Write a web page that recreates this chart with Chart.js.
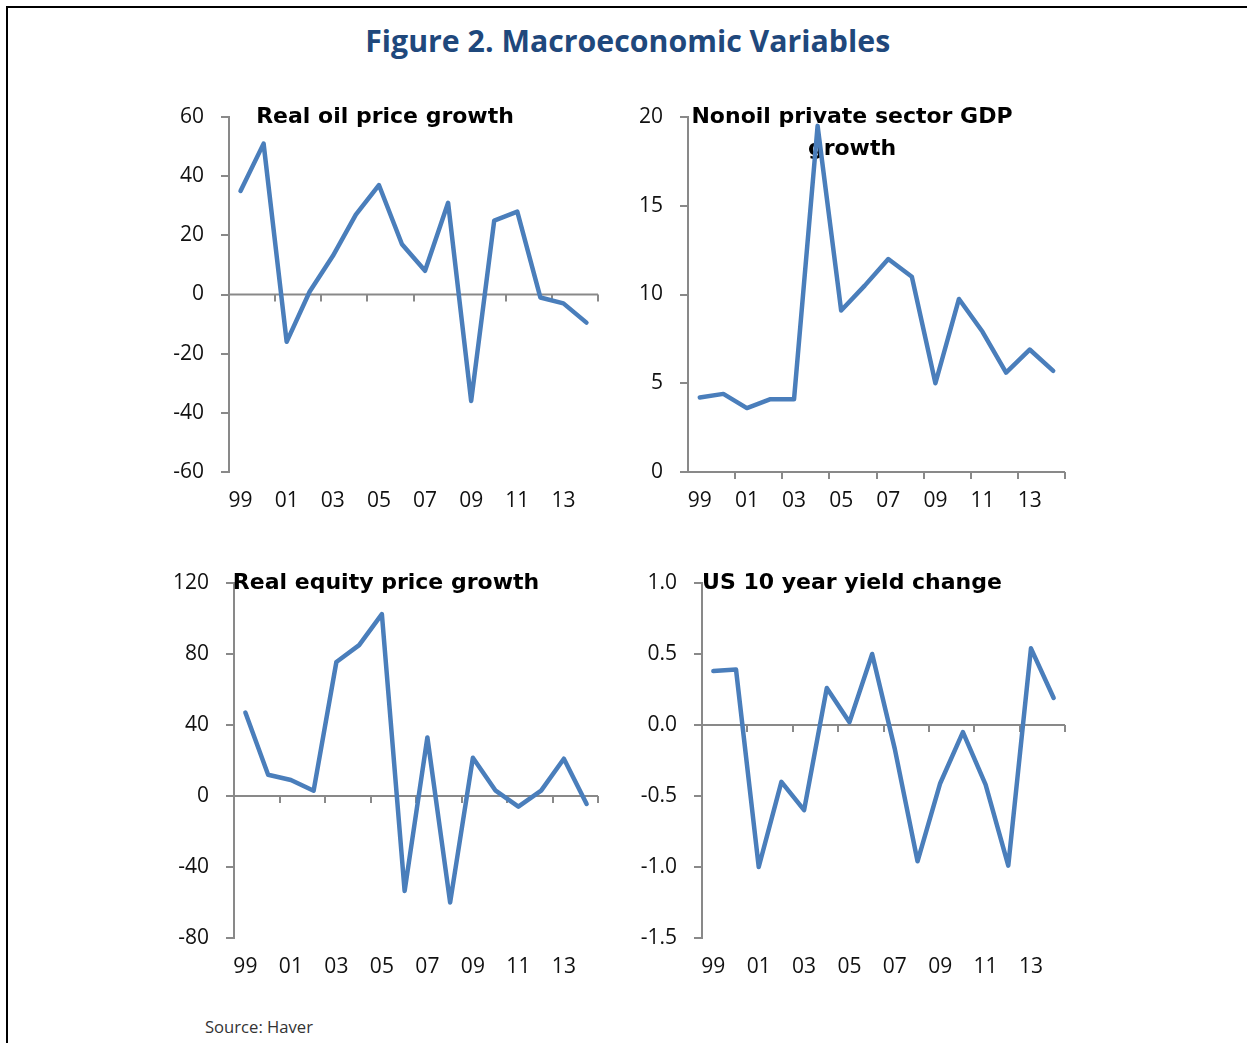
<!DOCTYPE html>
<html>
<head>
<meta charset="utf-8">
<script src="https://cdn.jsdelivr.net/npm/chart.js@4.4.1/dist/chart.umd.min.js"></script>
<style>
  html, body { margin: 0; padding: 0; background: #fff; }
  body { width: 1247px; height: 1043px; position: relative; overflow: hidden; }
  #frame { position: absolute; left: 6px; top: 6px; width: 1300px; height: 1100px;
           border-top: 2px solid #000; border-left: 2px solid #000; }
  #title { position: absolute; left: 0; top: 25px; width: 1256px; text-align: center;
           font: bold 31px "Open Sans", sans-serif; line-height: 30px; color: #1f487c; }
  #title span { display: inline-block; transform-origin: center; }
  #source { position: absolute; left: 205px; top: 1016px; font: 16px "Open Sans", sans-serif; color: #333; }
  #source span { display: inline-block; transform-origin: left; }
  canvas { position: absolute; }
</style>
</head>
<body>
<div id="frame"></div>
<div id="title"><span>Figure 2. Macroeconomic Variables</span></div>
<div id="source"><span>Source: Haver</span></div>

<script>
// years 1999..2014
const years = ['99','00','01','02','03','04','05','06','07','08','09','10','11','12','13','14'];

const oilGrowth = [35, 51, -16, 1, 13, 27, 37, 17, 8, 31, -36, 25, 28, -1, -3, -9.5];
const nonoilGdp = [4.2, 4.4, 3.6, 4.1, 4.1, 19.5, 9.1, 10.5, 12.0, 11.0, 5.0, 9.75, 7.9, 5.6, 6.9, 5.7];
const equityGrowth = [47, 12, 9, 3, 75.5, 85, 102.5, -53.5, 33, -60, 21.5, 3, -6, 3, 21, -4.5];
const us10Change = [0.38, 0.39, -1.0, -0.40, -0.60, 0.26, 0.02, 0.50, -0.17, -0.96, -0.41, -0.05, -0.42, -0.99, 0.54, 0.19];

const titles = [
  ['Real oil price growth'],
  ['Nonoil private sector GDP', 'growth'],
  ['Real equity price growth'],
  ['US 10 year yield change']
];
const yRanges = [
  { min: -60, max: 60, step: 20, dec: 0 },
  { min: 0, max: 20, step: 5, dec: 0 },
  { min: -80, max: 120, step: 40, dec: 0 },
  { min: -1.5, max: 1.0, step: 0.5, dec: 1 }
];
const series = [oilGrowth, nonoilGdp, equityGrowth, us10Change];

// layout of each plot area on the page
const boxes = [
  { L: 229, T: 117, R: 598, B: 472, tx: 156, ty: [6] },
  { L: 688, T: 117, R: 1065, B: 472, tx: 164, ty: [6, 38] },
  { L: 234, T: 583, R: 598, B: 938, tx: 152, ty: [6] },
  { L: 702, T: 583, R: 1065, B: 938, tx: 150, ty: [6] }
];
const PADL = 90, PADT = 45, PADR = 15, PADB = 45;
const axisGray = '#898989';
const lineBlue = '#4a7ebb';

// fit the big title and source widths
const span = document.querySelector('#title span');
span.style.transform = 'scaleX(' + (525 / span.getBoundingClientRect().width) + ')';
const src = document.querySelector('#source span');
src.style.transform = 'scaleX(' + (108 / src.getBoundingClientRect().width) + ')';

// zero line with tick marks every two years + panel title
const panelDecor = {
  id: 'panelDecor',
  beforeDatasetsDraw(chart, args, opts) {
    const { ctx, chartArea } = chart;
    const x = chart.scales.x, y = chart.scales.y;
    const y0 = y.getPixelForValue(0);
    const n = x.ticks.length;
    const w = (x.right - x.left) / n;
    ctx.save();
    ctx.strokeStyle = axisGray;
    ctx.lineWidth = 2;
    ctx.beginPath();
    ctx.moveTo(chartArea.left, y0);
    ctx.lineTo(chartArea.right, y0);
    for (let k = 2; k <= n; k += 2) {
      const px = Math.round(x.left + k * w);
      ctx.moveTo(px, y0);
      ctx.lineTo(px, y0 + 7);
    }
    ctx.stroke();
    ctx.fillStyle = '#000';
    ctx.font = 'bold 22px "DejaVu Sans", Verdana, sans-serif';
    ctx.textAlign = 'center';
    ctx.textBaseline = 'alphabetic';
    opts.lines.forEach((t, i) => {
      ctx.fillText(t, chartArea.left + opts.tx, chartArea.top + opts.ty[i]);
    });
    ctx.restore();
  }
};

function makePanel(i) {
  const b = boxes[i];
  const cv = document.createElement('canvas');
  const cw = b.R - b.L + PADL + PADR;
  const ch = b.B - b.T + PADT + PADB;
  cv.width = cw; cv.height = ch;
  cv.style.left = (b.L - PADL) + 'px';
  cv.style.top = (b.T - PADT) + 'px';
  cv.style.width = cw + 'px';
  cv.style.height = ch + 'px';
  document.body.appendChild(cv);
  const r = yRanges[i];

  return new Chart(cv.getContext('2d'), {
    type: 'line',
    data: {
      labels: years,
      datasets: [{
        data: series[i],
        borderColor: lineBlue,
        borderWidth: 4.5,
        borderJoinStyle: 'round',
        borderCapStyle: 'round',
        pointRadius: 0,
        tension: 0,
        fill: false
      }]
    },
    options: {
      responsive: false,
      animation: false,
      layout: { padding: { left: 0, top: PADT, right: PADR, bottom: 0 } },
      plugins: {
        legend: { display: false },
        tooltip: { enabled: false },
        panelDecor: { lines: titles[i], tx: b.tx, ty: b.ty }
      },
      scales: {
        x: {
          type: 'category',
          offset: true,
          grid: { display: false, drawTicks: false },
          border: { display: false },
          ticks: {
            autoSkip: false,
            maxRotation: 0,
            padding: 16,
            color: '#111',
            font: { family: '"Open Sans", sans-serif', size: 21 },
            callback: (v, idx) => idx % 2 === 0 ? years[idx] : ''
          },
          afterFit: s => { s.height = PADB; }
        },
        y: {
          min: r.min,
          max: r.max,
          grid: { display: true, drawOnChartArea: false, drawTicks: true, tickLength: 8, color: axisGray, lineWidth: 2 },
          border: { display: true, color: axisGray, width: 2 },
          ticks: {
            stepSize: r.step,
            padding: 17,
            color: '#111',
            font: { family: '"Open Sans", sans-serif', size: 21 },
            callback: v => Number(v).toFixed(r.dec)
          },
          afterFit: s => { s.width = PADL; }
        }
      }
    },
    plugins: [panelDecor]
  });
}

for (let i = 0; i < 4; i++) makePanel(i);
</script>
</body>
</html>
